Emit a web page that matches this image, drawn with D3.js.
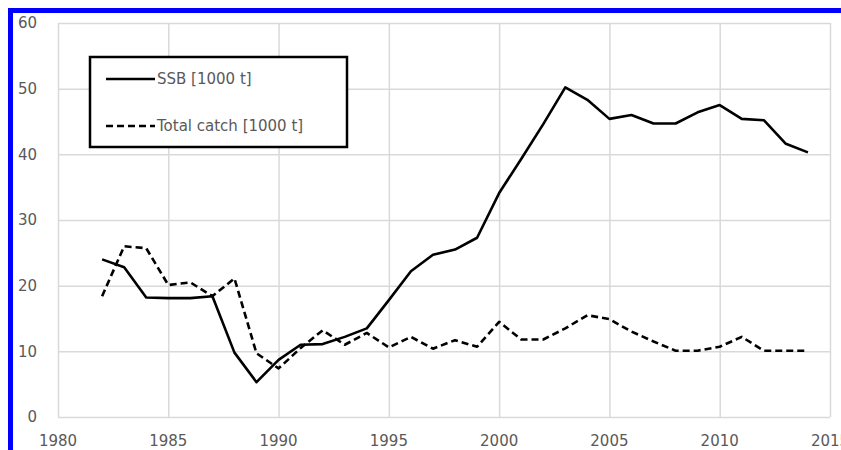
<!DOCTYPE html>
<html><head><meta charset="utf-8">
<script src="https://cdn.jsdelivr.net/npm/d3@7"></script>
<style>html,body{margin:0;padding:0;background:#fff;}svg{display:block;}</style>
</head><body>
<svg id="chart" width="841" height="450"></svg>
<script>
const years = d3.range(1982, 2015);
const ssb = [24.0, 22.8, 18.2, 18.1, 18.1, 18.4, 9.8, 5.3, 8.7, 11.0, 11.1, 12.2, 13.5, 17.8, 22.2, 24.7, 25.5, 27.3, 34.1, 39.3, 44.6, 50.2, 48.3, 45.4, 46.0, 44.7, 44.7, 46.4, 47.5, 45.4, 45.2, 41.6, 40.3];
const catchT = [18.4, 26.0, 25.7, 20.1, 20.5, 18.4, 21.1, 9.7, 7.4, 10.5, 13.2, 11.0, 12.8, 10.6, 12.2, 10.4, 11.7, 10.7, 14.5, 11.8, 11.8, 13.5, 15.5, 14.9, 13.0, 11.5, 10.1, 10.1, 10.7, 12.2, 10.1, 10.1, 10.1];
const xTicks = [1980, 1985, 1990, 1995, 2000, 2005, 2010, 2015];
const yTicks = [0, 10, 20, 30, 40, 50, 60];
const seriesNames = ["SSB [1000 t]", "Total catch [1000 t]"];

const svg = d3.select("#chart");
const W = 841, H = 450;
const m = {left: 58, right: 11, top: 23, bottom: 33};
const x = d3.scaleLinear().domain([1980, 2015]).range([m.left, W - m.right]);
const y = d3.scaleLinear().domain([0, 60]).range([H - m.bottom, m.top]);
const font = "'DejaVu Sans', sans-serif";
const textCol = "#595959";
const gridCol = "#d9d9d9";

// blue frame (top and left)
svg.append("rect").attr("x", 8).attr("y", 8).attr("width", W - 8).attr("height", 5).attr("fill", "#0000ff");
svg.append("rect").attr("x", 8).attr("y", 8).attr("width", 5).attr("height", H - 8).attr("fill", "#0000ff");

// gridlines
const gy = svg.append("g")
  .attr("transform", `translate(${m.left},0)`)
  .call(d3.axisLeft(y).tickValues(yTicks).tickSize(-(W - m.left - m.right)).tickFormat(""));
gy.select(".domain").remove();
gy.selectAll("line").attr("stroke", gridCol).attr("stroke-width", 1.5);

const gx = svg.append("g")
  .attr("transform", `translate(0,${H - m.bottom})`)
  .call(d3.axisBottom(x).tickValues(xTicks).tickSize(-(H - m.top - m.bottom)).tickFormat(""));
gx.select(".domain").remove();
gx.selectAll("line").attr("stroke", gridCol).attr("stroke-width", 1.5);

// y tick labels
svg.append("g").selectAll("text").data(yTicks).join("text")
  .attr("x", 37).attr("y", d => y(d)).attr("dy", "0.35em")
  .attr("text-anchor", "end").attr("font-family", font).attr("font-size", 15)
  .attr("fill", textCol).text(d => d);

// x tick labels
svg.append("g").selectAll("text").data(xTicks).join("text")
  .attr("x", d => x(d)).attr("y", 446)
  .attr("text-anchor", "middle").attr("font-family", font).attr("font-size", 15)
  .attr("fill", textCol).text(d => d);

// lines
const line = vals => d3.line().x((d, i) => x(years[i])).y(d => y(d))(vals);
svg.append("path").attr("d", line(ssb)).attr("fill", "none")
  .attr("stroke", "#000").attr("stroke-width", 2.6).attr("stroke-linejoin", "round");
svg.append("path").attr("d", line(catchT)).attr("fill", "none")
  .attr("stroke", "#000").attr("stroke-width", 2.6).attr("stroke-dasharray", "7,4").attr("stroke-linejoin", "round");

// legend
const lg = svg.append("g");
lg.append("rect").attr("x", 90).attr("y", 57).attr("width", 257).attr("height", 90)
  .attr("fill", "#fff").attr("stroke", "#000").attr("stroke-width", 2.5);
const legY = [79, 126];
const dashes = [null, "7,4"];
seriesNames.forEach((name, i) => {
  lg.append("line").attr("x1", 106).attr("x2", 155).attr("y1", legY[i]).attr("y2", legY[i])
    .attr("stroke", "#000").attr("stroke-width", 2.6).attr("stroke-dasharray", dashes[i]);
  lg.append("text").attr("x", 157).attr("y", legY[i]).attr("dy", "0.35em")
    .attr("font-family", font).attr("font-size", 15).attr("fill", textCol).text(name);
});
</script>
</body></html>
